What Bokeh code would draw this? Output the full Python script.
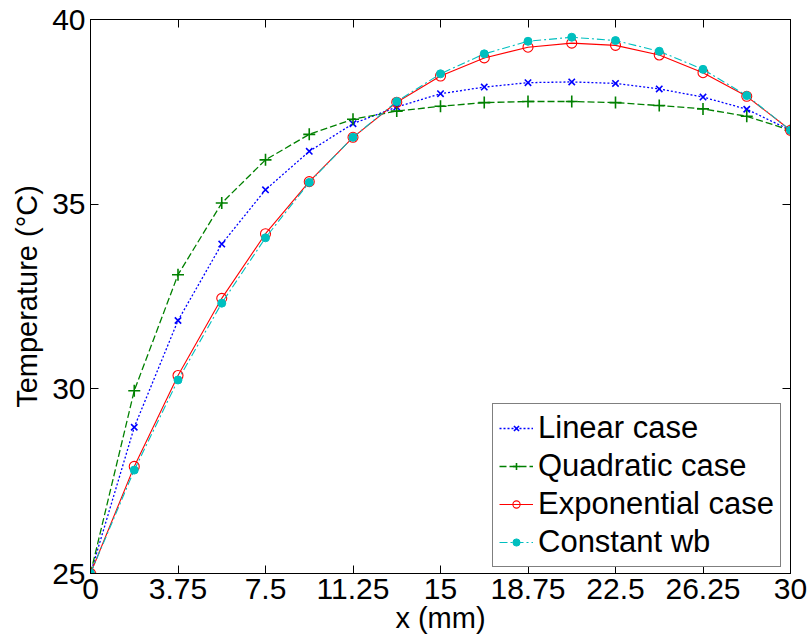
from bokeh.plotting import figure
from bokeh.models import (Range1d, FixedTicker, LinearAxis, Legend, LegendItem,
                          CustomLabelingPolicy)
from bokeh.embed import file_html
from bokeh.resources import INLINE

# ---- data ----
x_mm = [0, 1.875, 3.75, 5.625, 7.5, 9.375, 11.25, 13.125, 15,
        16.875, 18.75, 20.625, 22.5, 24.375, 26.25, 28.125, 30]
linear_case = [25.0, 28.96, 31.85, 33.92, 35.39, 36.43, 37.18, 37.63, 37.99,
               38.17, 38.29, 38.31, 38.27, 38.12, 37.90, 37.57, 37.0]
quadratic_case = [25.0, 29.95, 33.09, 35.03, 36.20, 36.89, 37.30, 37.52, 37.65,
                  37.75, 37.78, 37.78, 37.75, 37.67, 37.58, 37.38, 37.0]
exponential_case = [25.0, 27.90, 30.36, 32.45, 34.20, 35.61, 36.81, 37.76, 38.47,
                    38.96, 39.25, 39.36, 39.30, 39.04, 38.56, 37.92, 37.0]
constant_wb = [25.0, 27.80, 30.24, 32.32, 34.09, 35.59, 36.81, 37.78, 38.53,
               39.07, 39.41, 39.52, 39.43, 39.14, 38.65, 37.94, 37.0]

x_ticks = [0, 3.75, 7.5, 11.25, 15, 18.75, 22.5, 26.25, 30]
x_tick_labels = ["0", "3.75", "7.5", "11.25", "15", "18.75", "22.5", "26.25", "30"]
y_ticks = [25, 30, 35, 40]

FONT = "Liberation Sans"

p = figure(frame_width=700, frame_height=554, output_backend="svg",
           toolbar_location=None, x_range=Range1d(0, 30), y_range=Range1d(25, 40),
           min_border_left=90, min_border_right=20, min_border_top=19,
           min_border_bottom=71, background_fill_color="white",
           border_fill_color="white")
p.grid.visible = False
p.outline_line_color = "black"
p.outline_line_width = 1

no_labels = CustomLabelingPolicy(code="""
for (const i of [...indices]) { indices.unset(i) }
return indices
""")

def style_axis(ax, ticks, show_labels=True):
    ax.ticker = FixedTicker(ticks=ticks)
    ax.major_tick_in = 8
    ax.major_tick_out = 0
    ax.minor_tick_line_color = None
    ax.axis_line_color = "black"
    ax.major_tick_line_color = "black"
    ax.major_label_text_font = FONT
    ax.major_label_text_color = "black"
    ax.axis_label_text_font = FONT
    ax.axis_label_text_font_style = "normal"
    ax.axis_label_text_color = "black"
    if show_labels:
        ax.major_label_text_font_size = "30px"
        ax.axis_label_text_font_size = "29px"
    else:
        ax.major_label_policy = no_labels
        ax.major_label_text_font_size = "0px"
        ax.major_label_standoff = 0

xa = p.xaxis[0]
style_axis(xa, x_ticks)
xa.major_label_overrides = {t: l for t, l in zip(x_ticks, x_tick_labels)}
xa.axis_label = "x (mm)"
xa.major_label_standoff = 5
xa.axis_label_standoff = 0

ya = p.yaxis[0]
style_axis(ya, y_ticks)
ya.axis_label = "Temperature (\u00b0C)"
ya.major_label_standoff = 5
ya.axis_label_standoff = 6

top = LinearAxis()
style_axis(top, x_ticks, show_labels=False)
p.add_layout(top, "above")
right = LinearAxis()
style_axis(right, y_ticks, show_labels=False)
p.add_layout(right, "right")

r1l = p.line(x_mm, linear_case, line_color="#0000FF", line_width=1.3, line_dash="2 2")
r1m = p.scatter(x_mm, linear_case, marker="x", size=9, line_color="#0000FF", line_width=1.6)
r2l = p.line(x_mm, quadratic_case, line_color="#008000", line_width=1.3, line_dash="7 3")
r2m = p.scatter(x_mm, quadratic_case, marker="cross", size=12, line_color="#008000", line_width=1.6)
r3l = p.line(x_mm, exponential_case, line_color="#FF0000", line_width=1.1)
r3m = p.scatter(x_mm, exponential_case, marker="circle", size=10, line_color="#FF0000",
                fill_color=None, line_width=1.1)
r4l = p.line(x_mm, constant_wb, line_color="#00BFBF", line_width=1.1, line_dash="8 3 2 3")
r4m = p.scatter(x_mm, constant_wb, marker="circle", size=8, line_color="#00BFBF",
                fill_color="#00BFBF")

legend = Legend(items=[
    LegendItem(label="Linear case", renderers=[r1l, r1m]),
    LegendItem(label="Quadratic case", renderers=[r2l, r2m]),
    LegendItem(label="Exponential case", renderers=[r3l, r3m]),
    LegendItem(label="Constant wb", renderers=[r4l, r4m]),
], location=(402, 6))
legend.margin = 0
legend.padding = 6
legend.spacing = 2
legend.glyph_width = 34
legend.glyph_height = 18
legend.label_height = 36
legend.label_standoff = 5
legend.label_text_font = FONT
legend.label_text_font_size = "31px"
legend.label_text_color = "black"
legend.border_line_color = "black"
legend.border_line_width = 1
legend.background_fill_color = "white"
legend.background_fill_alpha = 1
p.add_layout(legend, "center")

open("out.html", "w").write(file_html(p, INLINE))
